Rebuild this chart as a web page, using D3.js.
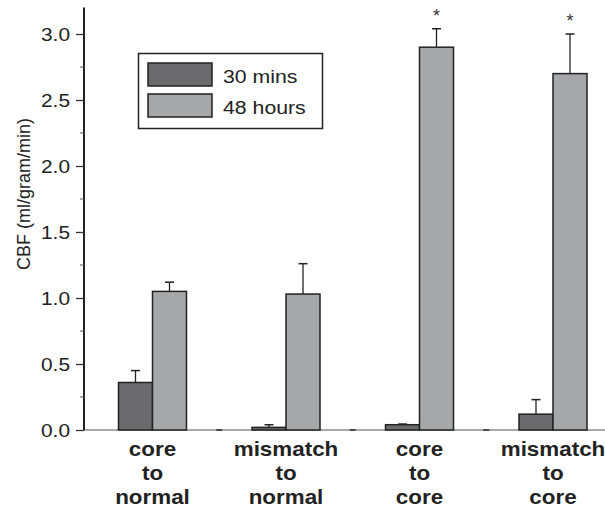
<!DOCTYPE html>
<html><head><meta charset="utf-8">
<script src="https://cdn.jsdelivr.net/npm/d3@7"></script>
<style>body{margin:0;background:#fff}svg{display:block}</style>
</head><body>
<script>
const categories = [["core","to","normal"],["mismatch","to","normal"],["core","to","core"],["mismatch","to","core"]];
const seriesNames = ["30 mins","48 hours"];
const mins30 = [0.36, 0.02, 0.04, 0.12];
const mins30Err = [0.09, 0.02, 0.005, 0.11];
const hours48 = [1.05, 1.03, 2.90, 2.70];
const hours48Err = [0.07, 0.23, 0.14, 0.30];
const significant = [false, false, true, true];
const yTicks = [0, 0.5, 1.0, 1.5, 2.0, 2.5, 3.0];
const colors = ["#6b6b6d", "#a6a7a9"];

const W = 605, H = 511;
const SX = 1.1;
const svg = d3.select("body").append("svg").attr("width", W).attr("height", H);
const y = d3.scaleLinear().domain([0, 3.2]).range([430, 7.6]);
const x = d3.scaleBand().domain(d3.range(4)).range([85.75, 619.75]);
const fontF = "Liberation Sans, Arial, Helvetica, sans-serif";

// x axis line
svg.append("line").attr("x1", 84).attr("x2", 605).attr("y1", y(0)).attr("y2", y(0))
  .attr("stroke", "#555").attr("stroke-width", 1.2);
[1,2,3].forEach(i => {
  const xx = x(i);
  svg.append("line").attr("x1", xx-3).attr("x2", xx+3).attr("y1", y(0)).attr("y2", y(0))
    .attr("stroke", "#333").attr("stroke-width", 1.6);
});

// bars
const bw = 34;
const data = [];
for (let i = 0; i < 4; i++) {
  data.push({i, s: 0, v: mins30[i], e: mins30Err[i]});
  data.push({i, s: 1, v: hours48[i], e: hours48Err[i]});
}
const bx = d => x(d.i) + x.bandwidth()/2 + (d.s === 0 ? -bw : 0);
const g = svg.append("g");
g.selectAll("line.err").data(data).join("line").attr("class","err")
  .attr("x1", d => bx(d) + bw/2).attr("x2", d => bx(d) + bw/2)
  .attr("y1", d => y(d.v)).attr("y2", d => y(d.v + d.e))
  .attr("stroke", "#222").attr("stroke-width", 1.3);
g.selectAll("line.cap").data(data).join("line").attr("class","cap")
  .attr("x1", d => bx(d) + bw/2 - 4.5).attr("x2", d => bx(d) + bw/2 + 4.5)
  .attr("y1", d => y(d.v + d.e)).attr("y2", d => y(d.v + d.e))
  .attr("stroke", "#222").attr("stroke-width", 1.5);
g.selectAll("rect").data(data).join("rect")
  .attr("x", d => bx(d)).attr("width", bw)
  .attr("y", d => y(d.v)).attr("height", d => y(0) - y(d.v))
  .attr("fill", d => colors[d.s]).attr("stroke", "#222").attr("stroke-width", 1.5);

// significance stars
g.selectAll("text.star").data(data.filter(d => d.s === 1 && significant[d.i])).join("text")
  .attr("class","star")
  .attr("x", d => bx(d) + bw/2).attr("y", d => y(d.v + d.e) - 7)
  .attr("text-anchor","middle").attr("font-family", fontF).attr("font-size", 18).attr("fill","#333")
  .text("*");

// y axis
const yAxis = d3.axisLeft(y).tickValues(yTicks).tickFormat(d3.format(".1f")).tickSize(8).tickPadding(5);
const ya = svg.append("g").attr("transform", "translate(84,0)").call(yAxis);
ya.select(".domain").attr("d", `M0,${y(3.2)}V${y(0)}`).attr("stroke", "#222").attr("stroke-width", 2);
ya.selectAll(".tick line").attr("stroke", "#333").attr("stroke-width", 1.3);
ya.selectAll(".tick text").attr("font-family", fontF).attr("font-size", 19).attr("fill", "#222")
  .attr("x", -14 / SX).attr("transform", `scale(${SX},1)`);
const minor = d3.range(0.25, 3.2, 0.5);
ya.selectAll("line.minor").data(minor).join("line").attr("class","minor")
  .attr("x1", -4).attr("x2", 0).attr("y1", d => y(d)).attr("y2", d => y(d))
  .attr("stroke", "#555").attr("stroke-width", 1);

// y label
svg.append("text").attr("transform", "translate(30,194) rotate(-90)")
  .attr("text-anchor","middle").attr("font-family", fontF).attr("font-size", 18).attr("fill","#222")
  .text("CBF (ml/gram/min)");

// category labels
categories.forEach((lines, i) => {
  const cx = x(i) + x.bandwidth()/2;
  lines.forEach((l, k) => {
    svg.append("text").attr("transform", `translate(${cx},${456 + k*24}) scale(1.12,1)`)
      .attr("text-anchor","middle").attr("font-family", fontF)
      .attr("font-size", 20).attr("font-weight","bold").attr("fill","#222").text(l);
  });
});

// legend
const lg = svg.append("g");
lg.append("rect").attr("x", 138.5).attr("y", 53.5).attr("width", 184).attr("height", 75)
  .attr("fill","#fff").attr("stroke","#222").attr("stroke-width", 1.5);
seriesNames.forEach((n, k) => {
  lg.append("rect").attr("x", 148).attr("y", 63 + k*31).attr("width", 64).attr("height", 23)
    .attr("fill", colors[k]).attr("stroke","#222").attr("stroke-width", 1.5);
  lg.append("text").attr("transform", `translate(223,${83 + k*31}) scale(1.12,1)`)
    .attr("font-family", fontF).attr("font-size", 19).attr("fill","#222").text(n);
});
</script>
</body></html>
